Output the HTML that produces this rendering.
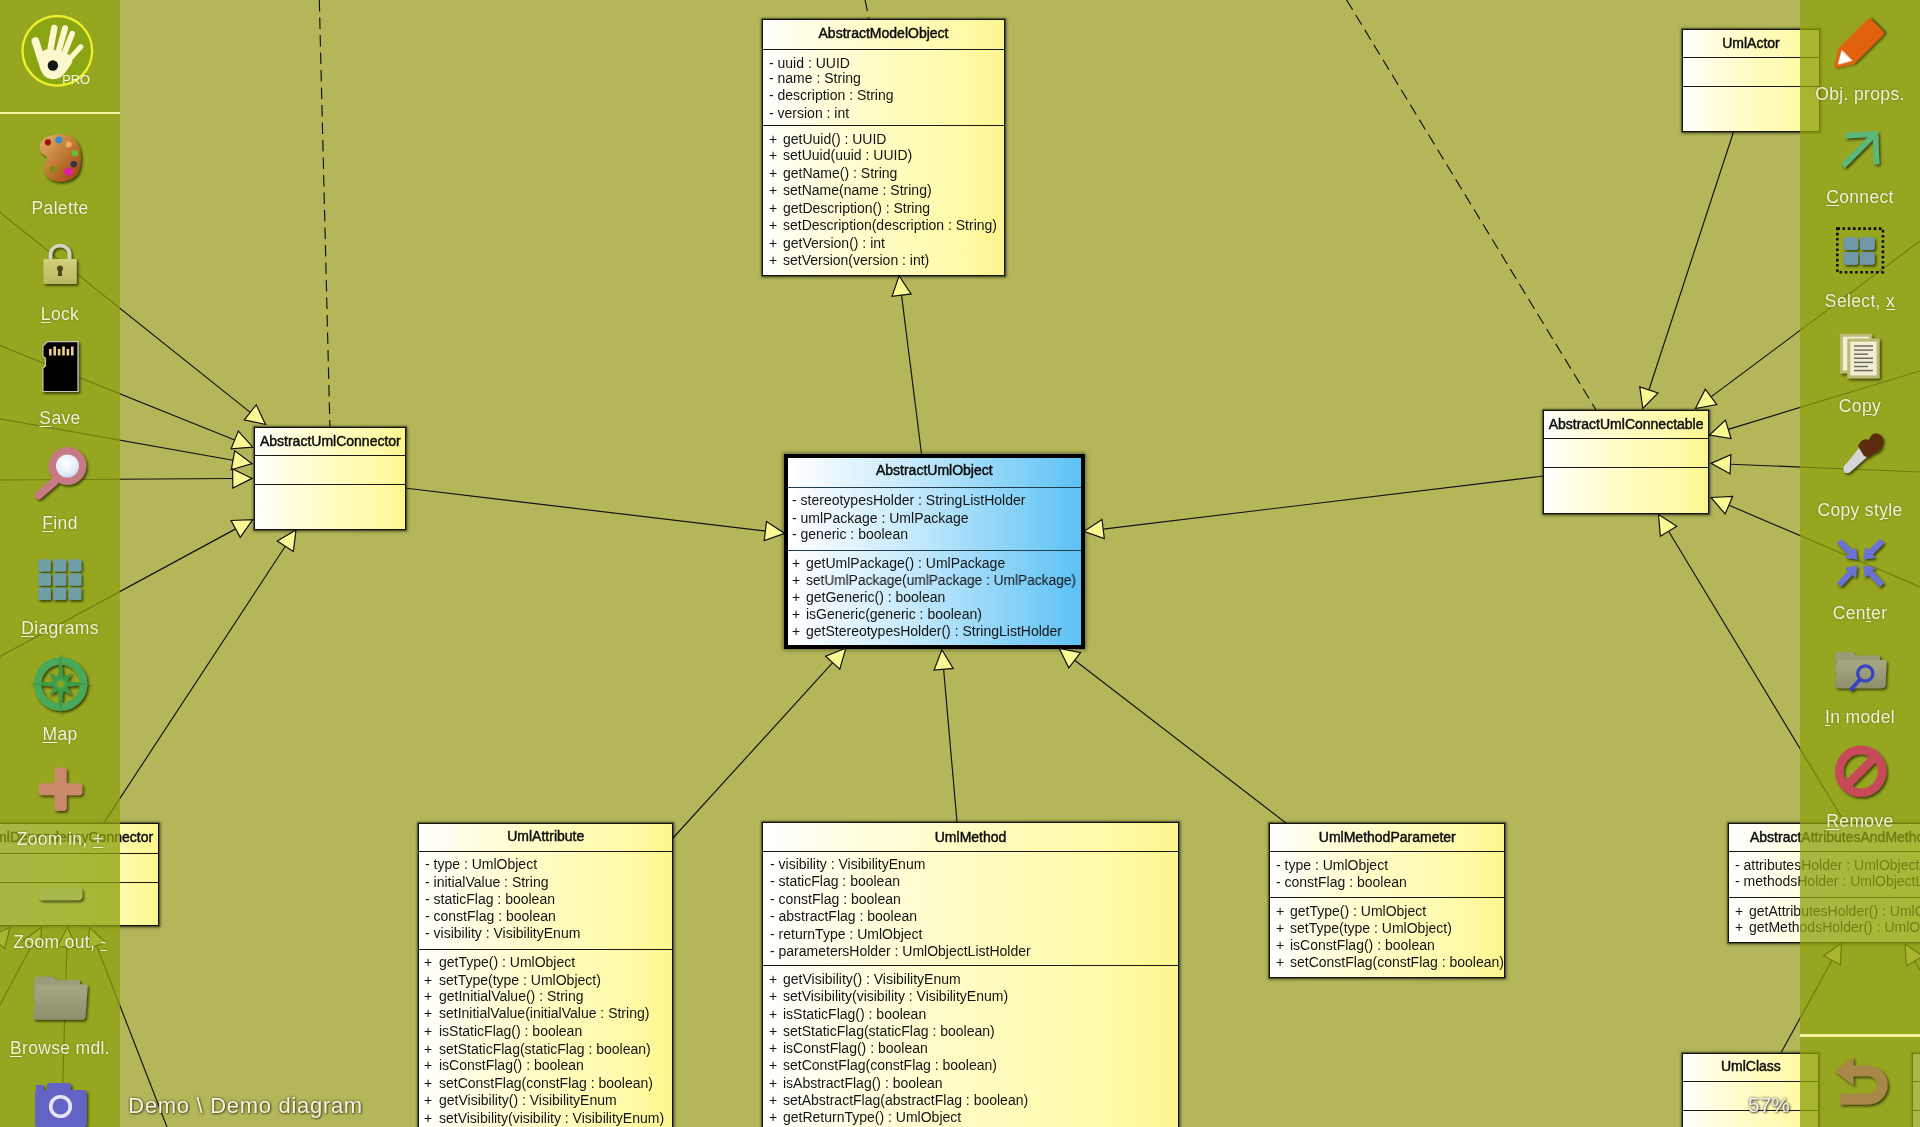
<!DOCTYPE html><html><head><meta charset="utf-8"><title>UML</title><style>
*{margin:0;padding:0;box-sizing:border-box}
html,body{width:1920px;height:1127px;overflow:hidden;background:#b3b75a;font-family:'Liberation Sans', sans-serif}
.t,.tt,.lb{will-change:transform}
.box{position:absolute;border:1.5px solid #111;background:linear-gradient(to right,#ffffff 0%,#fffde0 22%,#fffcc2 50%,#fffaa8 82%,#fcf68e 100%);box-shadow:0 0 3px 1.5px rgba(25,25,0,.55),0 0 1px 1px rgba(25,25,0,.35)}
.box.sel{border:4px solid #000;background:linear-gradient(to right,#ffffff 0%,#c9ebfc 40%,#8ad3f8 75%,#5cc1f4 100%);box-shadow:0 0 4px 1px rgba(0,0,0,.45)}
.sep{position:absolute;height:1px;background:#1a1a14}
.sel .sep{background:#1f3f50}
.t{position:absolute;white-space:pre;font-size:14px;line-height:20px;color:#141414}
.tt{position:absolute;white-space:pre;font-size:14px;line-height:20px;color:#0c0c0c;-webkit-text-stroke:0.45px #0c0c0c}
.sb{position:absolute;top:0;height:1127px;width:120px;background:rgba(140,160,14,.76)}
.lb{position:absolute;width:120px;text-align:center;white-space:pre;font-size:17.5px;letter-spacing:0.35px;line-height:24px;color:#f3f2d6;text-shadow:0 0 2px rgba(60,60,0,.5)}
.lb u{text-decoration:underline;text-decoration-thickness:1px;text-underline-offset:2px}
.ic{position:absolute;overflow:visible}
</style></head><body>
<div class="box" style="left:762px;top:18.5px;width:243px;height:257.5px"><div class="sep" style="left:0;right:0;top:29.4px"></div><div class="sep" style="left:0;right:0;top:105.2px"></div></div><div class="tt" style="left:762px;width:243px;text-align:center;top:23px">AbstractModelObject</div><div class="t" style="left:769.3px;top:53px">- uuid : UUID</div><div class="t" style="left:769.3px;top:68px">- name : String</div><div class="t" style="left:769.3px;top:85px">- description : String</div><div class="t" style="left:769.3px;top:103px">- version : int</div><div class="t" style="left:768.8px;top:129px">+</div><div class="t" style="left:783px;top:129px">getUuid() : UUID</div><div class="t" style="left:768.8px;top:145px">+</div><div class="t" style="left:783px;top:145px">setUuid(uuid : UUID)</div><div class="t" style="left:768.8px;top:163px">+</div><div class="t" style="left:783px;top:163px">getName() : String</div><div class="t" style="left:768.8px;top:180px">+</div><div class="t" style="left:783px;top:180px">setName(name : String)</div><div class="t" style="left:768.8px;top:198px">+</div><div class="t" style="left:783px;top:198px">getDescription() : String</div><div class="t" style="left:768.8px;top:215px">+</div><div class="t" style="left:783px;top:215px">setDescription(description : String)</div><div class="t" style="left:768.8px;top:233px">+</div><div class="t" style="left:783px;top:233px">getVersion() : int</div><div class="t" style="left:768.8px;top:250px">+</div><div class="t" style="left:783px;top:250px">setVersion(version : int)</div>
<div class="box" style="left:253.8px;top:426.5px;width:152.7px;height:103.5px"><div class="sep" style="left:0;right:0;top:27.4px"></div><div class="sep" style="left:0;right:0;top:56.2px"></div></div><div class="tt" style="left:253.8px;width:152.7px;text-align:center;top:431px">AbstractUmlConnector</div>
<div class="box" style="left:1543.3px;top:410px;width:166.2px;height:103.5px"><div class="sep" style="left:0;right:0;top:26.8px"></div><div class="sep" style="left:0;right:0;top:55.6px"></div></div><div class="tt" style="left:1543.3px;width:166.2px;text-align:center;top:414px">AbstractUmlConnectable</div>
<div class="box" style="left:1681.5px;top:28.8px;width:138px;height:103.5px"><div class="sep" style="left:0;right:0;top:27.1px"></div><div class="sep" style="left:0;right:0;top:56.2px"></div></div><div class="tt" style="left:1681.5px;width:138px;text-align:center;top:33px">UmlActor</div>
<div class="box" style="left:1681.7px;top:1052.7px;width:137.8px;height:107.3px"><div class="sep" style="left:0;right:0;top:27.5px"></div><div class="sep" style="left:0;right:0;top:56.3px"></div></div><div class="tt" style="left:1681.7px;width:137.8px;text-align:center;top:1056px">UmlClass</div>
<div class="box" style="left:1912px;top:1052.7px;width:138px;height:107.3px"><div class="sep" style="left:0;right:0;top:27.5px"></div><div class="sep" style="left:0;right:0;top:56.3px"></div></div>
<div class="box" style="left:-30px;top:822.6px;width:189.3px;height:103.9px"><div class="sep" style="left:0;right:0;top:29.6px"></div><div class="sep" style="left:0;right:0;top:58.6px"></div></div><div class="tt" style="right:1766.9px;top:827px">UmlDependencyConnector</div>
<div class="box" style="left:417.5px;top:823px;width:255.5px;height:337px"><div class="sep" style="left:0;right:0;top:27px"></div><div class="sep" style="left:0;right:0;top:124.6px"></div></div><div class="tt" style="left:417.5px;width:255.5px;text-align:center;top:826px">UmlAttribute</div><div class="t" style="left:424.8px;top:854px">- type : UmlObject</div><div class="t" style="left:424.8px;top:872px">- initialValue : String</div><div class="t" style="left:424.8px;top:889px">- staticFlag : boolean</div><div class="t" style="left:424.8px;top:906px">- constFlag : boolean</div><div class="t" style="left:424.8px;top:923px">- visibility : VisibilityEnum</div><div class="t" style="left:424.3px;top:952px">+</div><div class="t" style="left:438.5px;top:952px">getType() : UmlObject</div><div class="t" style="left:424.3px;top:970px">+</div><div class="t" style="left:438.5px;top:970px">setType(type : UmlObject)</div><div class="t" style="left:424.3px;top:986px">+</div><div class="t" style="left:438.5px;top:986px">getInitialValue() : String</div><div class="t" style="left:424.3px;top:1003px">+</div><div class="t" style="left:438.5px;top:1003px">setInitialValue(initialValue : String)</div><div class="t" style="left:424.3px;top:1021px">+</div><div class="t" style="left:438.5px;top:1021px">isStaticFlag() : boolean</div><div class="t" style="left:424.3px;top:1039px">+</div><div class="t" style="left:438.5px;top:1039px">setStaticFlag(staticFlag : boolean)</div><div class="t" style="left:424.3px;top:1055px">+</div><div class="t" style="left:438.5px;top:1055px">isConstFlag() : boolean</div><div class="t" style="left:424.3px;top:1073px">+</div><div class="t" style="left:438.5px;top:1073px">setConstFlag(constFlag : boolean)</div><div class="t" style="left:424.3px;top:1090px">+</div><div class="t" style="left:438.5px;top:1090px">getVisibility() : VisibilityEnum</div><div class="t" style="left:424.3px;top:1108px">+</div><div class="t" style="left:438.5px;top:1108px">setVisibility(visibility : VisibilityEnum)</div>
<div class="box" style="left:762.2px;top:822.2px;width:417.1px;height:337.8px"><div class="sep" style="left:0;right:0;top:27.7px"></div><div class="sep" style="left:0;right:0;top:142.3px"></div></div><div class="tt" style="left:762.2px;width:417.1px;text-align:center;top:827px">UmlMethod</div><div class="t" style="left:769.5px;top:854px">- visibility : VisibilityEnum</div><div class="t" style="left:769.5px;top:871px">- staticFlag : boolean</div><div class="t" style="left:769.5px;top:889px">- constFlag : boolean</div><div class="t" style="left:769.5px;top:906px">- abstractFlag : boolean</div><div class="t" style="left:769.5px;top:924px">- returnType : UmlObject</div><div class="t" style="left:769.5px;top:941px">- parametersHolder : UmlObjectListHolder</div><div class="t" style="left:769px;top:969px">+</div><div class="t" style="left:783.2px;top:969px">getVisibility() : VisibilityEnum</div><div class="t" style="left:769px;top:986px">+</div><div class="t" style="left:783.2px;top:986px">setVisibility(visibility : VisibilityEnum)</div><div class="t" style="left:769px;top:1004px">+</div><div class="t" style="left:783.2px;top:1004px">isStaticFlag() : boolean</div><div class="t" style="left:769px;top:1021px">+</div><div class="t" style="left:783.2px;top:1021px">setStaticFlag(staticFlag : boolean)</div><div class="t" style="left:769px;top:1038px">+</div><div class="t" style="left:783.2px;top:1038px">isConstFlag() : boolean</div><div class="t" style="left:769px;top:1055px">+</div><div class="t" style="left:783.2px;top:1055px">setConstFlag(constFlag : boolean)</div><div class="t" style="left:769px;top:1073px">+</div><div class="t" style="left:783.2px;top:1073px">isAbstractFlag() : boolean</div><div class="t" style="left:769px;top:1090px">+</div><div class="t" style="left:783.2px;top:1090px">setAbstractFlag(abstractFlag : boolean)</div><div class="t" style="left:769px;top:1107px">+</div><div class="t" style="left:783.2px;top:1107px">getReturnType() : UmlObject</div><div class="t" style="left:769px;top:1125px">+</div><div class="t" style="left:783.2px;top:1125px">setReturnType(returnType : UmlObject)</div>
<div class="box" style="left:1268.9px;top:822.8px;width:236.6px;height:155.2px"><div class="sep" style="left:0;right:0;top:26.9px"></div><div class="sep" style="left:0;right:0;top:73.3px"></div></div><div class="tt" style="left:1268.9px;width:236.6px;text-align:center;top:827px">UmlMethodParameter</div><div class="t" style="left:1276.2px;top:855px">- type : UmlObject</div><div class="t" style="left:1276.2px;top:872px">- constFlag : boolean</div><div class="t" style="left:1275.7px;top:901px">+</div><div class="t" style="left:1289.9px;top:901px">getType() : UmlObject</div><div class="t" style="left:1275.7px;top:918px">+</div><div class="t" style="left:1289.9px;top:918px">setType(type : UmlObject)</div><div class="t" style="left:1275.7px;top:935px">+</div><div class="t" style="left:1289.9px;top:935px">isConstFlag() : boolean</div><div class="t" style="left:1275.7px;top:952px">+</div><div class="t" style="left:1289.9px;top:952px">setConstFlag(constFlag : boolean)</div>
<div class="box" style="left:1728px;top:823.2px;width:312px;height:120.3px"><div class="sep" style="left:0;right:0;top:26.9px"></div><div class="sep" style="left:0;right:0;top:72.9px"></div></div><div class="tt" style="left:1750px;top:827px">AbstractAttributesAndMethodsUmlObject</div><div class="t" style="left:1735.3px;top:855px">- attributesHolder : UmlObjectListHolder</div><div class="t" style="left:1735.3px;top:871px">- methodsHolder : UmlObjectListHolder</div><div class="t" style="left:1734.8px;top:901px">+</div><div class="t" style="left:1749px;top:901px">getAttributesHolder() : UmlObjectListHolder</div><div class="t" style="left:1734.8px;top:917px">+</div><div class="t" style="left:1749px;top:917px">getMethodsHolder() : UmlObjectListHolder</div>
<div class="box sel" style="left:784px;top:454px;width:300.6px;height:195.4px"><div class="sep" style="left:0;right:0;top:28.5px"></div><div class="sep" style="left:0;right:0;top:92px"></div></div><div class="tt" style="left:784px;width:300.6px;text-align:center;top:460px">AbstractUmlObject</div><div class="t" style="left:792.3px;top:490px">- stereotypesHolder : StringListHolder</div><div class="t" style="left:792.3px;top:508px">- umlPackage : UmlPackage</div><div class="t" style="left:792.3px;top:524px">- generic : boolean</div><div class="t" style="left:791.8px;top:553px">+</div><div class="t" style="left:806px;top:553px">getUmlPackage() : UmlPackage</div><div class="t" style="left:791.8px;top:570px">+</div><div class="t" style="left:806px;top:570px;transform:scaleX(0.98);transform-origin:0 0">setUmlPackage(umlPackage : UmlPackage)</div><div class="t" style="left:791.8px;top:587px">+</div><div class="t" style="left:806px;top:587px">getGeneric() : boolean</div><div class="t" style="left:791.8px;top:604px">+</div><div class="t" style="left:806px;top:604px">isGeneric(generic : boolean)</div><div class="t" style="left:791.8px;top:621px">+</div><div class="t" style="left:806px;top:621px">getStereotypesHolder() : StringListHolder</div>
<svg width="1920" height="1127" style="position:absolute;left:0;top:0"><g stroke="#111" stroke-width="1.15" fill="none"><line x1="319.3" y1="0" x2="329.9" y2="426.5" stroke-dasharray="11.5 6"/><line x1="865" y1="0" x2="869" y2="18.5" stroke-dasharray="11.5 6"/><line x1="1346.6" y1="0" x2="1596" y2="410" stroke-dasharray="11.5 6"/><line x1="0" y1="212.5" x2="250.26" y2="412.33"/><line x1="0" y1="345.6" x2="234.71" y2="439.93"/><line x1="0" y1="418.8" x2="233" y2="460.28"/><line x1="0" y1="480" x2="232.7" y2="478.52"/><line x1="0" y1="656.4" x2="235.65" y2="528.88"/><line x1="104" y1="822.6" x2="285.3" y2="546.3"/><line x1="921.5" y1="453.7" x2="901.54" y2="295.15"/><line x1="406.5" y1="488.3" x2="765.34" y2="531.09"/><line x1="1543.5" y1="476" x2="1103.16" y2="529.07"/><line x1="673" y1="838" x2="832.67" y2="662.72"/><line x1="957" y1="822" x2="943.6" y2="669.23"/><line x1="1286" y1="823" x2="1074.65" y2="660.2"/><line x1="1733.4" y1="132.3" x2="1648.88" y2="389.97"/><line x1="1920" y1="241" x2="1711.03" y2="396.84"/><line x1="1920" y1="371" x2="1728.26" y2="429.33"/><line x1="1920" y1="472" x2="1730.48" y2="464.2"/><line x1="1920" y1="587" x2="1728.93" y2="505.18"/><line x1="1845" y1="823" x2="1668.59" y2="531.19"/><line x1="1781" y1="1052.7" x2="1831.98" y2="960.37"/><line x1="1960" y1="1040" x2="1914.69" y2="960.92"/><line x1="-60" y1="1010" x2="-2.62" y2="942.37"/><line x1="0" y1="1004.7" x2="32.1" y2="944.69"/><line x1="61.4" y1="1127" x2="66.9" y2="946.99"/><line x1="167" y1="1127" x2="96.65" y2="945.68"/></g><g stroke="#111" stroke-width="1.2" fill="#fbf894" stroke-linejoin="miter"><polygon points="265.5,424.5 244.27,419.83 256.25,404.83"/><polygon points="252.8,447.2 231.13,448.84 238.29,431.02"/><polygon points="252.2,463.7 231.32,469.73 234.68,450.83"/><polygon points="252.2,478.4 232.76,488.12 232.64,468.92"/><polygon points="252.8,519.6 240.22,537.32 231.08,520.44"/><polygon points="296,530 293.33,551.57 277.28,541.04"/><polygon points="899.1,275.8 911.06,293.95 892.01,296.35"/><polygon points="784.7,533.4 764.2,540.62 766.47,521.56"/><polygon points="1083.8,531.4 1102.01,519.54 1104.31,538.6"/><polygon points="845.8,648.3 839.77,669.18 825.57,656.25"/><polygon points="941.9,649.8 953.17,668.39 934.04,670.06"/><polygon points="1059.2,648.3 1080.51,652.59 1068.79,667.8"/><polygon points="1642.8,408.5 1639.76,386.98 1658,392.96"/><polygon points="1695.4,408.5 1705.29,389.15 1716.77,404.54"/><polygon points="1709.6,435 1725.46,420.14 1731.05,438.51"/><polygon points="1711,463.4 1730.88,454.61 1730.09,473.79"/><polygon points="1711,497.5 1732.7,496.35 1725.15,514"/><polygon points="1658.5,514.5 1676.8,526.22 1660.37,536.15"/><polygon points="1841.4,943.3 1840.38,965.01 1823.57,955.73"/><polygon points="1905,944 1923.02,956.15 1906.36,965.69"/><polygon points="10,927.5 4.7,948.58 -9.94,936.16"/><polygon points="41.3,927.5 40.57,949.22 23.64,940.17"/><polygon points="67.5,927.5 76.5,947.28 57.31,946.7"/><polygon points="89.6,927.5 105.6,942.21 87.7,949.15"/></g></svg>
<div style="position:absolute;left:128.3px;top:1090.5px;font-size:22px;letter-spacing:0.7px;line-height:30px;color:#f6f4e0;white-space:pre;text-shadow:0 0 3px rgba(40,40,0,.8),1px 1px 2px rgba(40,40,0,.6)">Demo \ Demo diagram</div>
<div style="position:absolute;left:1748px;top:1089.5px;font-size:21px;line-height:30px;color:#f0f0e8;white-space:pre;text-shadow:0 0 3px rgba(0,0,0,.7),1px 1px 2px rgba(0,0,0,.6)">57%</div>
<div class="sb" style="left:0"></div>
<div class="sb" style="left:1800px"></div>
<div style="position:absolute;left:0;top:111.5px;width:120px;height:2.5px;background:#f4f2a0"></div>
<div style="position:absolute;left:1800px;top:1034px;width:120px;height:2.5px;background:#f4f2a0"></div>
<div class="lb" style="left:0;top:195.85px">Palette</div>
<div class="lb" style="left:0;top:301.5px"><u>L</u>ock</div>
<div class="lb" style="left:0;top:406px"><u>S</u>ave</div>
<div class="lb" style="left:0;top:511.1px"><u>F</u>ind</div>
<div class="lb" style="left:0;top:615.8px"><u>D</u>iagrams</div>
<div class="lb" style="left:0;top:722.3px"><u>M</u>ap</div>
<div class="lb" style="left:0;top:826.6px">Zoom in, <u>+</u></div>
<div class="lb" style="left:0;top:930.4px">Zoom out, <u>-</u></div>
<div class="lb" style="left:0;top:1036.1px"><u>B</u>rowse mdl.</div>
<div class="lb" style="left:1800px;top:81.5px">Obj. props.</div>
<div class="lb" style="left:1800px;top:185.1px"><u>C</u>onnect</div>
<div class="lb" style="left:1800px;top:289.4px">Select, <u>x</u></div>
<div class="lb" style="left:1800px;top:394.1px">Co<u>p</u>y</div>
<div class="lb" style="left:1800px;top:497.5px">Copy st<u>y</u>le</div>
<div class="lb" style="left:1800px;top:601.1px">Cen<u>t</u>er</div>
<div class="lb" style="left:1800px;top:704.7px"><u>I</u>n model</div>
<div class="lb" style="left:1800px;top:808.5px"><u>R</u>emove</div>
<svg style="position:absolute;left:0;top:0" width="120" height="1127" viewBox="0 0 120 1127"><defs>
<filter id="ds" x="-30%" y="-30%" width="160%" height="160%"><feDropShadow dx="1.6" dy="1.8" stdDeviation="1.1" flood-color="#1e2400" flood-opacity="0.75"/></filter>
<linearGradient id="pal" x1="0" y1="0" x2="1" y2="1"><stop offset="0" stop-color="#e2b070"/><stop offset="0.5" stop-color="#bf7a35"/><stop offset="1" stop-color="#9a3c0a"/></linearGradient>
<radialGradient id="lens" cx="0.45" cy="0.4" r="0.6"><stop offset="0" stop-color="#ffffff"/><stop offset="0.6" stop-color="#e4ecfa"/><stop offset="1" stop-color="#b8c8e8"/></radialGradient>
<linearGradient id="lock" x1="0" y1="0" x2="0" y2="1"><stop offset="0" stop-color="#d2d07c"/><stop offset="1" stop-color="#b9b862"/></linearGradient>
<linearGradient id="fold" x1="0" y1="0" x2="0" y2="1"><stop offset="0" stop-color="#a9a886"/><stop offset="1" stop-color="#8f8e6c"/></linearGradient>
<clipPath id="remclip"><circle cx="1860.8" cy="771.3" r="21"/></clipPath>
</defs><circle cx="57.3" cy="50.8" r="34.8" fill="#8aa514" stroke="#eef02a" stroke-width="2.3"/><g stroke="#fcf7cc" stroke-linecap="round" fill="#fcf7cc"><line x1="41.4" y1="60" x2="35.4" y2="41" stroke-width="7.6"/><line x1="49.5" y1="55" x2="54.3" y2="27.8" stroke-width="6.4"/><line x1="57.5" y1="55" x2="65" y2="28.2" stroke-width="6"/><line x1="62.9" y1="57" x2="72.2" y2="33.6" stroke-width="5.6"/><line x1="67" y1="62" x2="80.8" y2="46.8" stroke-width="5.2"/><path stroke="none" d="M38.2 54.7 C38 62 39.5 71 45 76.5 C50 80.5 57 80 62 76 C66 72 70 66 72.5 62 L69.3 54.7 L49.3 48.3 L41.4 51.5 Z"/></g><circle cx="52.9" cy="65.5" r="5.2" fill="#161616"/><text x="62.3" y="83.9" font-family="Liberation Sans" font-size="12.8" fill="#f6f4e4">PRO</text><g transform="translate(30,125)" filter="url(#ds)"><path d="M10 19 C14 9 32 6 43 13 C52 19 53 38 48 48 C43 57 28 59 20 54 C13 50 12 42 17 34 C19 30 10 30 10 24 Z" fill="url(#pal)"/><circle cx="23" cy="44.4" r="3.6" fill="#7f8a18"/><circle cx="17.9" cy="17.3" r="3.1" fill="#a01010"/><circle cx="28.8" cy="15" r="3.4" fill="#3090d0"/><circle cx="38.6" cy="19.6" r="3" fill="#f0b050"/><circle cx="45" cy="28.3" r="3.3" fill="#60c030"/><circle cx="43.8" cy="39.2" r="3.2" fill="#303048"/><ellipse cx="38.6" cy="46.7" rx="4.6" ry="4" fill="#e020a0"/></g><g filter="url(#ds)"><path d="M50.5 261 V254 A9.5 8.5 0 0 1 69.5 254 V261" fill="none" stroke="#d6d4c0" stroke-width="3.6"/><rect x="43.4" y="259" width="33.3" height="25" rx="1.5" fill="url(#lock)"/><circle cx="60" cy="268.5" r="3" fill="#4c4a1c"/><path d="M58.6 269 L57.8 276 H62.2 L61.4 269 Z" fill="#4c4a1c"/></g><g filter="url(#ds)"><path d="M47.7 341.6 H78 V391.5 H42.9 V368 L45.5 366 V358.4 L42.9 356.5 V346 Z" fill="#060606" stroke="#c8c8b4" stroke-width="1.2"/><rect x="49.0" y="349.0" width="2.6" height="6.5" fill="#ecd08a"/><rect x="53.4" y="346.5" width="2.6" height="9.0" fill="#ecd08a"/><rect x="57.8" y="349.0" width="2.6" height="6.5" fill="#ecd08a"/><rect x="62.2" y="346.5" width="2.6" height="9.0" fill="#ecd08a"/><rect x="66.6" y="349.0" width="2.6" height="6.5" fill="#ecd08a"/><rect x="71.0" y="346.5" width="2.6" height="9.0" fill="#ecd08a"/></g><g filter="url(#ds)"><line x1="54.5" y1="481.5" x2="39" y2="495" stroke="#c87a84" stroke-width="8" stroke-linecap="round"/><circle cx="67.5" cy="466" r="15.2" fill="url(#lens)" stroke="#c87a84" stroke-width="7.4"/></g><g filter="url(#ds)" fill="#6f9ea6"><rect x="38.1" y="559.2" width="12.8" height="12.2" rx="1.5"/><rect x="38.1" y="573.5" width="12.8" height="12.2" rx="1.5"/><rect x="38.1" y="587.8" width="12.8" height="12.2" rx="1.5"/><rect x="53.4" y="559.2" width="12.8" height="12.2" rx="1.5"/><rect x="53.4" y="573.5" width="12.8" height="12.2" rx="1.5"/><rect x="53.4" y="587.8" width="12.8" height="12.2" rx="1.5"/><rect x="68.6" y="559.2" width="12.8" height="12.2" rx="1.5"/><rect x="68.6" y="573.5" width="12.8" height="12.2" rx="1.5"/><rect x="68.6" y="587.8" width="12.8" height="12.2" rx="1.5"/></g><g filter="url(#ds)"><circle cx="60.6" cy="684" r="23" fill="none" stroke="#4aa85a" stroke-width="7.5"/><polygon points="60.60,653.00 63.47,677.07 71.91,672.69 67.53,681.13 91.60,684.00 67.53,686.87 71.91,695.31 63.47,690.93 60.60,715.00 57.73,690.93 49.29,695.31 53.67,686.87 29.60,684.00 53.67,681.13 49.29,672.69 57.73,677.07" fill="#3c9a4a"/><circle cx="60.6" cy="684" r="5.6" fill="#44a352"/><circle cx="60.6" cy="684" r="3.2" fill="#8fa21c"/></g><g filter="url(#ds)" fill="#c9896a"><rect x="54.6" y="767.4" width="12" height="43.5" rx="3"/><rect x="38.8" y="783.2" width="43.6" height="12" rx="3"/></g><g filter="url(#ds)"><rect x="38.8" y="887.4" width="43.6" height="12.9" rx="4" fill="#a9b84e"/></g><g filter="url(#ds)"><path d="M34 980 Q34 976.5 37 976.5 H52 L56 980 H80 V1000 H34 Z" fill="#9c9b7a"/><path d="M39 984.5 H86 Q88 984.5 87.6 987 L85.5 1017 Q85.2 1019.8 82 1019.8 H36 Q33 1019.8 33.3 1017 L36 987 Q36.3 984.5 39 984.5 Z" fill="url(#fold)"/></g><g filter="url(#ds)"><rect x="35" y="1090" width="51.6" height="37" rx="3" fill="#6464c6"/><rect x="47" y="1083" width="24" height="10" rx="2.5" fill="#6464c6"/><rect x="36" y="1085" width="8" height="5" rx="1" fill="#6464c6"/><circle cx="60.5" cy="1106.5" r="9.8" fill="none" stroke="#e6e6f2" stroke-width="3.6"/></g></svg>
<svg style="position:absolute;left:1800px;top:0" width="120" height="1127" viewBox="1800 0 120 1127"><defs>
<filter id="ds2" x="-30%" y="-30%" width="160%" height="160%"><feDropShadow dx="1.6" dy="1.8" stdDeviation="1.1" flood-color="#1e2400" flood-opacity="0.75"/></filter>
<linearGradient id="pal2" x1="0" y1="0" x2="1" y2="1"><stop offset="0" stop-color="#e2b070"/><stop offset="0.5" stop-color="#bf7a35"/><stop offset="1" stop-color="#9a3c0a"/></linearGradient>
<radialGradient id="lens2" cx="0.45" cy="0.4" r="0.6"><stop offset="0" stop-color="#ffffff"/><stop offset="0.6" stop-color="#e4ecfa"/><stop offset="1" stop-color="#b8c8e8"/></radialGradient>
<linearGradient id="lock2" x1="0" y1="0" x2="0" y2="1"><stop offset="0" stop-color="#d2d07c"/><stop offset="1" stop-color="#b9b862"/></linearGradient>
<linearGradient id="fold2" x1="0" y1="0" x2="0" y2="1"><stop offset="0" stop-color="#a9a886"/><stop offset="1" stop-color="#8f8e6c"/></linearGradient>
<clipPath id="remclip2"><circle cx="1860.8" cy="771.3" r="21"/></clipPath>
</defs><g filter="url(#ds2)" transform="rotate(-45 1834 68.5)"><path d="M1834 68.5 L1851 57.5 H1893 Q1895 57.5 1895 60 V77 Q1895 79.5 1893 79.5 H1851 Z" fill="#e0620e"/><path d="M1839.5 68.5 L1852.5 61 V76 Z" fill="#ffffff"/></g><g filter="url(#ds2)" stroke="#5cb87a" stroke-width="5.5" fill="none" stroke-linecap="square"><line x1="1845" y1="164" x2="1874" y2="135"/><polyline points="1848,135.5 1875.5,134 1876.5,161.5"/></g><rect x="1837.3" y="228.6" width="45.6" height="43.6" fill="none" stroke="#0c0c0c" stroke-width="2.6" stroke-dasharray="2.6 2.6"/><g filter="url(#ds2)" fill="#6f98aa"><rect x="1843.6" y="237.3" width="14.6" height="12.8" rx="2.5"/><rect x="1860.1" y="237.3" width="14.6" height="12.8" rx="2.5"/><rect x="1843.6" y="251.9" width="14.6" height="12.8" rx="2.5"/><rect x="1860.1" y="251.9" width="14.6" height="12.8" rx="2.5"/></g><g filter="url(#ds2)"><rect x="1841.4" y="335.2" width="29.3" height="36.7" fill="#f2eed6" stroke="#bdbb72" stroke-width="3"/><rect x="1848.8" y="340.1" width="29.3" height="36.8" fill="#f2eed6" stroke="#bdbb72" stroke-width="3"/><g stroke="#6e6c5a" stroke-width="1.5"><line x1="1854" y1="346.0" x2="1873" y2="346.0"/><line x1="1854" y1="350.1" x2="1873" y2="350.1"/><line x1="1854" y1="354.2" x2="1868" y2="354.2"/><line x1="1854" y1="358.3" x2="1873" y2="358.3"/><line x1="1854" y1="362.4" x2="1873" y2="362.4"/><line x1="1854" y1="366.5" x2="1868" y2="366.5"/><line x1="1854" y1="370.6" x2="1873" y2="370.6"/></g></g><g filter="url(#ds2)"><path d="M1843.5 467 L1859 448 L1868 456 L1849.5 472.5 Q1843 475 1843.5 467 Z" fill="#d6d6da"/><path d="M1858 446 Q1862 437 1869 440 Q1872 431 1879 434 Q1886 438 1882 446 Q1880 452 1872 454 Q1869 459 1864 456 Z" fill="#5c2c0e"/></g><g filter="url(#ds2)"><line x1="1839.0" y1="541.0" x2="1850.3" y2="552.4" stroke="#6a72d6" stroke-width="6"/><polygon points="1857.3,559.5 1844.9,557.7 1855.6,547.1" fill="#6a72d6"/><line x1="1882.0" y1="541.0" x2="1870.4" y2="552.5" stroke="#6a72d6" stroke-width="6"/><polygon points="1863.3,559.5 1865.1,547.1 1875.7,557.8" fill="#6a72d6"/><line x1="1839.0" y1="585.0" x2="1850.5" y2="572.8" stroke="#6a72d6" stroke-width="6"/><polygon points="1857.3,565.5 1855.9,577.9 1845.0,567.7" fill="#6a72d6"/><line x1="1882.0" y1="585.0" x2="1870.2" y2="572.7" stroke="#6a72d6" stroke-width="6"/><polygon points="1863.3,565.5 1875.6,567.5 1864.8,577.9" fill="#6a72d6"/></g><g filter="url(#ds2)"><path d="M1835 655 Q1835 652 1838 652 H1852 L1856 655.5 H1880 V672 H1835 Z" fill="#9a9978"/><path d="M1840 660 H1884 Q1887 660 1886.6 663 L1885.4 685.5 Q1885 688.3 1882 688.3 H1838 Q1835 688.3 1835.2 685.5 L1837 663 Q1837.3 660 1840 660 Z" fill="url(#fold2)"/><line x1="1859" y1="680.5" x2="1851.5" y2="689" stroke="#3444c4" stroke-width="4" stroke-linecap="round"/><circle cx="1865.3" cy="673.5" r="7.6" fill="none" stroke="#3444c4" stroke-width="3.2"/></g><g filter="url(#ds2)"><circle cx="1860.8" cy="771.3" r="21.4" fill="none" stroke="#c84858" stroke-width="8.6"/><line x1="1878" y1="754" x2="1843.6" y2="788.6" stroke="#c84858" stroke-width="8.6" clip-path="url(#remclip2)"/></g><g filter="url(#ds2)"><path d="M1850 1071 H1868.4 A14.1 14.1 0 0 1 1868.4 1099.2 H1840" fill="none" stroke="#a8874a" stroke-width="10.5"/><polygon points="1834.4,1071 1853.5,1057 1853.5,1085.5" fill="#a8874a"/></g></svg>
</body></html>
